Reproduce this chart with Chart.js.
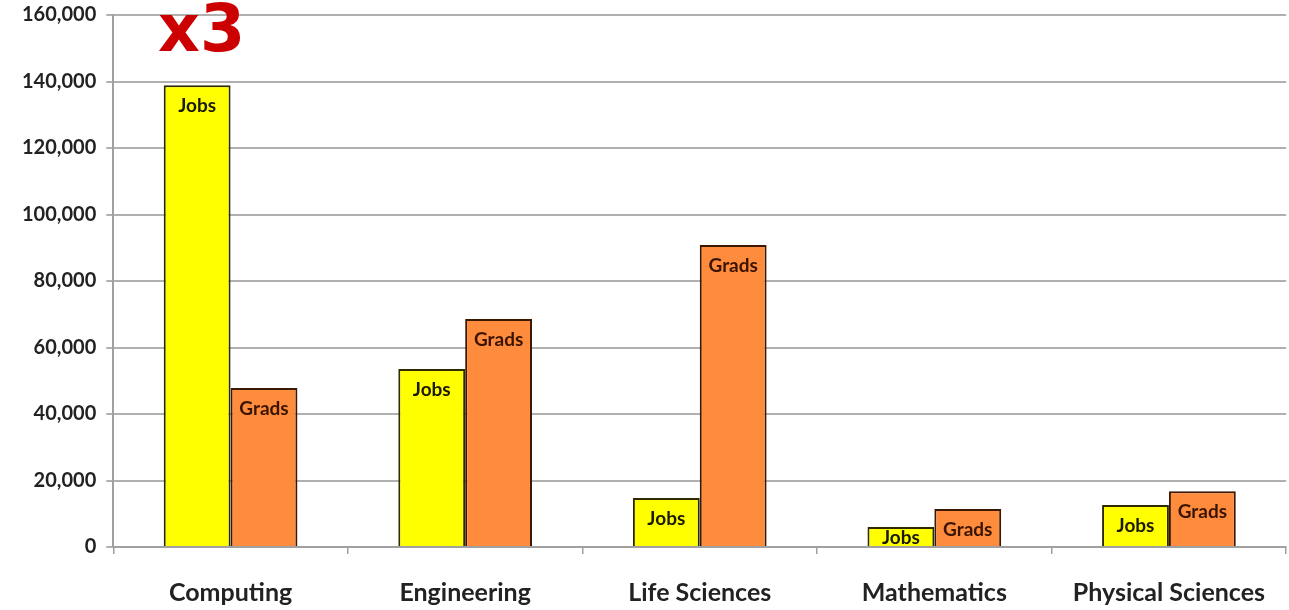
<!DOCTYPE html>
<html>
<head>
<meta charset="utf-8">
<script src="https://cdn.jsdelivr.net/npm/chart.js@4.4.0/dist/chart.umd.min.js"></script>
<style>
  html, body { margin: 0; padding: 0; background: #fff; }
  #wrap { width: 1289px; height: 610px; position: relative; }
</style>
</head>
<body>
<div id="wrap"><canvas id="myChart"></canvas></div>
<script>
// Categories and values
const fields = ['Computing', 'Engineering', 'Life Sciences', 'Mathematics', 'Physical Sciences'];
const jobs = [138900, 53500, 14700, 6000, 12600];
const grads = [47800, 68600, 90800, 11400, 16800];
const barLabels = ['Jobs', 'Grads'];

// Labels drawn near the top of each bar, plus the red "x3" note
const barLabelPlugin = {
    id: 'barLabels',
    afterDatasetsDraw(chart) {
        const c = chart.ctx;
        const a = chart.chartArea;
        c.save();
        c.beginPath();
        c.rect(a.left, a.top - 40, a.right - a.left, a.bottom - a.top + 39);
        c.clip();
        c.font = 'bold 19px Lato, "Open Sans", sans-serif';
        c.textAlign = 'center';
        c.textBaseline = 'middle';
        chart.data.datasets.forEach((ds, i) => {
            c.fillStyle = i === 0 ? '#1a1a00' : '#3a1400';
            chart.getDatasetMeta(i).data.forEach(bar => {
                c.fillText(barLabels[i], bar.x, Math.min(bar.y + 21, bar.base - 8));
            });
        });
        c.restore();
        // the "x3" marker above Computing
        c.save();
        c.fillStyle = '#cc0000';
        c.font = 'bold 65px "DejaVu Sans", sans-serif';
        c.textAlign = 'left';
        c.textBaseline = 'alphabetic';
        c.fillText('x3', 158, 51);
        c.restore();
    }
};

const ctx = document.getElementById('myChart').getContext('2d');
const chart = new Chart(ctx, {
    type: 'bar',
    data: {
        labels: fields,
        datasets: [
            {
                label: 'Jobs',
                data: jobs,
                backgroundColor: '#ffff00',
                borderColor: '#2e2a00',
                borderWidth: 2,
                categoryPercentage: 0.57,
                barPercentage: 1.0
            },
            {
                label: 'Grads',
                data: grads,
                backgroundColor: '#ff8c3c',
                borderColor: '#3a1800',
                borderWidth: 2,
                categoryPercentage: 0.57,
                barPercentage: 1.0
            }
        ]
    },
    options: {
        responsive: true,
        maintainAspectRatio: false,
        animation: false,
        layout: { padding: { left: 12, right: 0, top: 15, bottom: 0 } },
        plugins: {
            legend: { display: false },
            tooltip: { enabled: false }
        },
        scales: {
            x: {
                afterFit: s => { s.height = 63; },
                grid: {
                    display: true,
                    drawOnChartArea: false,
                    offset: true,
                    color: '#a0a0a0',
                    lineWidth: 1.5,
                    tickLength: 7
                },
                border: { color: '#a0a0a0', width: 2 },
                ticks: {
                    color: '#222',
                    padding: 24,
                    font: { family: 'Lato, "Open Sans", sans-serif', size: 25, weight: 'bold' }
                }
            },
            y: {
                min: 0,
                max: 160000,
                afterFit: s => { s.paddingTop = 0; s.paddingBottom = 0; },
                grid: {
                    color: '#b0b0b0',
                    lineWidth: 2,
                    tickLength: 7
                },
                border: { color: '#a0a0a0', width: 2 },
                ticks: {
                    stepSize: 20000,
                    color: '#222',
                    padding: 10,
                    font: { family: 'Lato, "Open Sans", sans-serif', size: 20, weight: 'bold' },
                    callback: v => v.toLocaleString('en-US')
                }
            }
        }
    },
    plugins: [barLabelPlugin]
});
</script>
</body>
</html>
